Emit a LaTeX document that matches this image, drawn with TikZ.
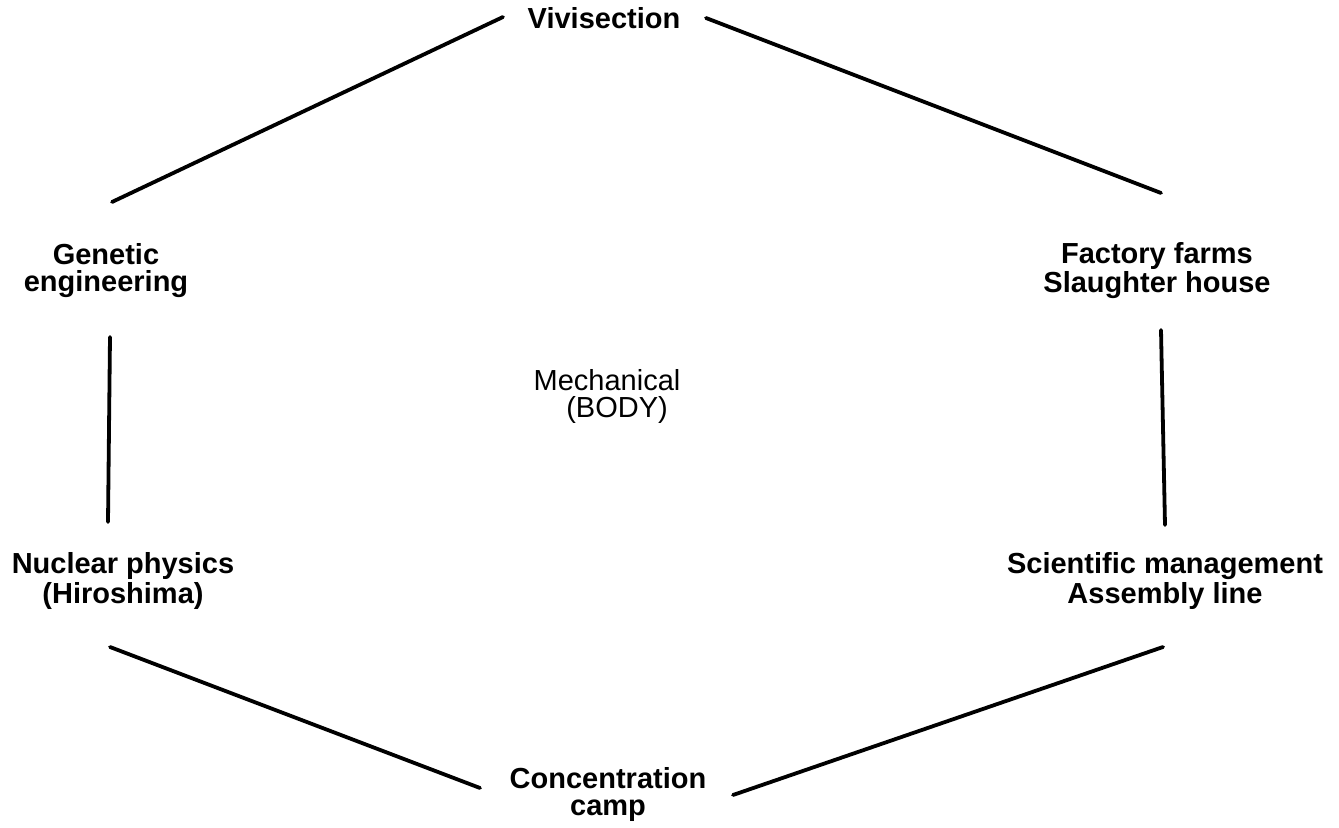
\documentclass[tikz,border=0pt]{standalone}
\usepackage{fontspec}
\setmainfont{Liberation Sans}
\usetikzlibrary{calc}

\def\labelsize{\fontsize{14.5}{13.5}\selectfont}

\begin{document}
\begin{tikzpicture}[x=0.5pt,y=-0.5pt,line width=1.9pt,draw=black]
    \tikzstyle{site}=[align=center, font=\labelsize\bfseries, inner sep=0pt]
    \tikzstyle{core}=[align=center, font=\labelsize, inner sep=0pt]
    \tikzstyle{link}=[line cap=round]

    \useasboundingbox (0,0) rectangle (1339,828);

    % Place the six sites round the hexagon
    \node[site] (viv) at (604,18) {Vivisection};
    \node[site] (gen) at (106,271) {Genetic\\engineering};
    \node[site] (fac) at (1157,271) {Factory farms\\Slaughter house};
    \node[site] (nuc) at (123,581) {Nuclear physics\\(Hiroshima)};
    \node[site] (sci) at (1165,581) {Scientific management\\Assembly line};
    \node[site] (con) at (608,794) {Concentration\\camp};

    % The label in the middle
    \node[core] (mech) at (607,396) {Mechanical\\\hspace*{10pt}(BODY)};

    % Join every site with its neighbours
    \draw[link] ($(gen)+(6,-69)$) -- ($(viv)+(-101,-1)$);
    \draw[link] ($(viv)+(102,0)$) -- ($(fac)+(4,-78)$);
    \draw[link] ($(gen)+(4,66)$) -- ($(nuc)+(-15,-59)$);
    \draw[link] ($(fac)+(4,59)$) -- ($(sci)+(0,-56)$);
    \draw[link] ($(nuc)+(-13,66)$) -- ($(con)+(-128,-6)$);
    \draw[link] ($(sci)+(-2,66)$) -- ($(con)+(125,1)$);
\end{tikzpicture}
\end{document}
